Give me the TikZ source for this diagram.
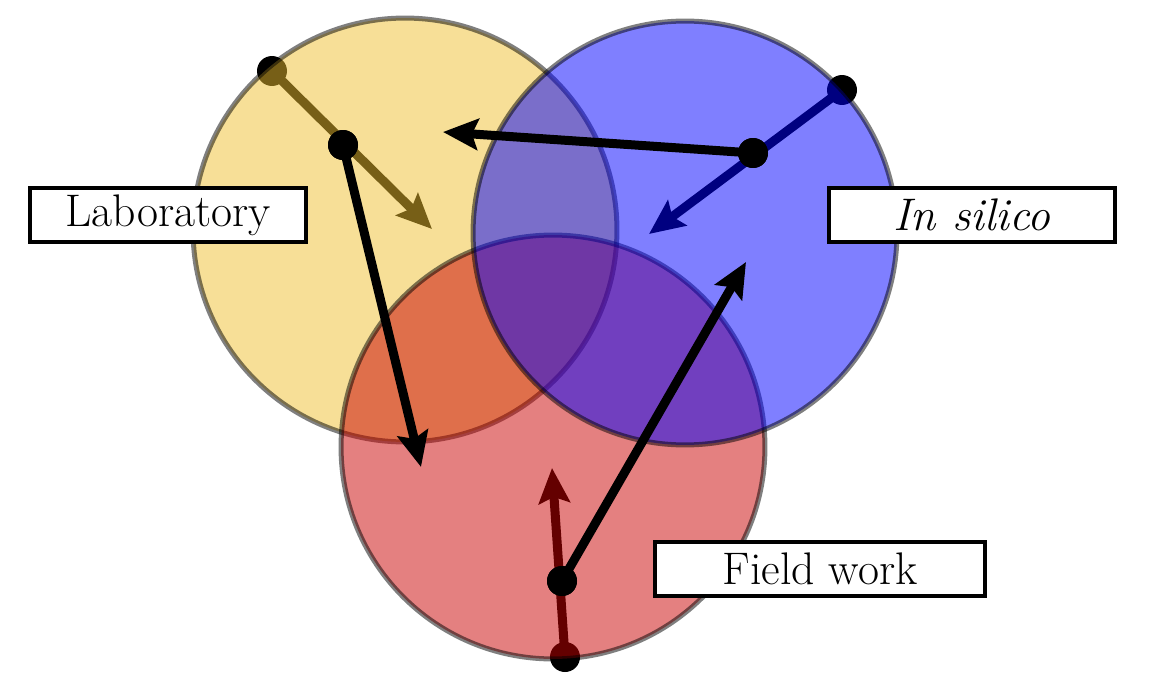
\documentclass[tikz,border=0pt]{standalone}
\usetikzlibrary{arrows.meta}
\definecolor{labyellow}{RGB}{239,191,47}
\definecolor{silblue}{RGB}{0,0,255}
\definecolor{fieldred}{RGB}{201,1,1}
\begin{document}
\begin{tikzpicture}[x=0.02cm,y=-0.02cm,
  zone/.style={circle,minimum size=8.48cm,inner sep=0pt,line width=0.1cm,draw=black,fill=#1,opacity=0.5},
  dot/.style={circle,fill=black,inner sep=0pt,minimum size=0.6cm},
  arr/.style={line width=0.18cm,-{Stealth[length=0.7cm,width=0.62cm,inset=0.12cm]}},
  label/.style={draw=black,fill=white,line width=0.08cm,minimum height=1.08cm,inner sep=0pt,font=\fontsize{26}{30}\selectfont}]
\useasboundingbox (0,0) rectangle (1170,679);
% tips
\coordinate (tY) at (432,229);
\coordinate (tB) at (649,234);
\coordinate (tR) at (552,468);
\coordinate (tLF) at (421,467);
\coordinate (tSL) at (443,132);
\coordinate (tFS) at (746,262);
% outer dots and arrows (under the circles)
\node[dot] (dY) at (272,71) {};
\node[dot] (dB) at (842,90) {};
\node[dot] (dR) at (565,657) {};
\draw[arr] (dY.center) -- (tY);
\draw[arr] (dB.center) -- (tB);
\draw[arr] (dR.center) -- (tR);
% circles
\node[zone=labyellow] (cY) at (405,230) {};
\node[zone=fieldred] (cR) at (553,447) {};
\node[zone=silblue] (cB) at (685,233) {};
% inner dots and arrows
\node[dot] (dL) at (343,145) {};
\node[dot] (dS) at (753,153) {};
\node[dot] (dF) at (562,581) {};
\draw[arr] (dL.center) -- (tLF);
\draw[arr] (dS.center) -- (tSL);
\draw[arr] (dF.center) -- (tFS);
\node[dot] at (dL) {};
\node[dot] at (dS) {};
\node[dot] at (dF) {};
% labels
\node[label,minimum width=5.52cm] (lLab) at (168,215) {Laboratory};
\node[label,minimum width=5.72cm] (lSil) at (972,215) {\itshape In silico};
\node[label,minimum width=6.62cm] (lFld) at (820,569) {Field work};
\end{tikzpicture}
\end{document}
